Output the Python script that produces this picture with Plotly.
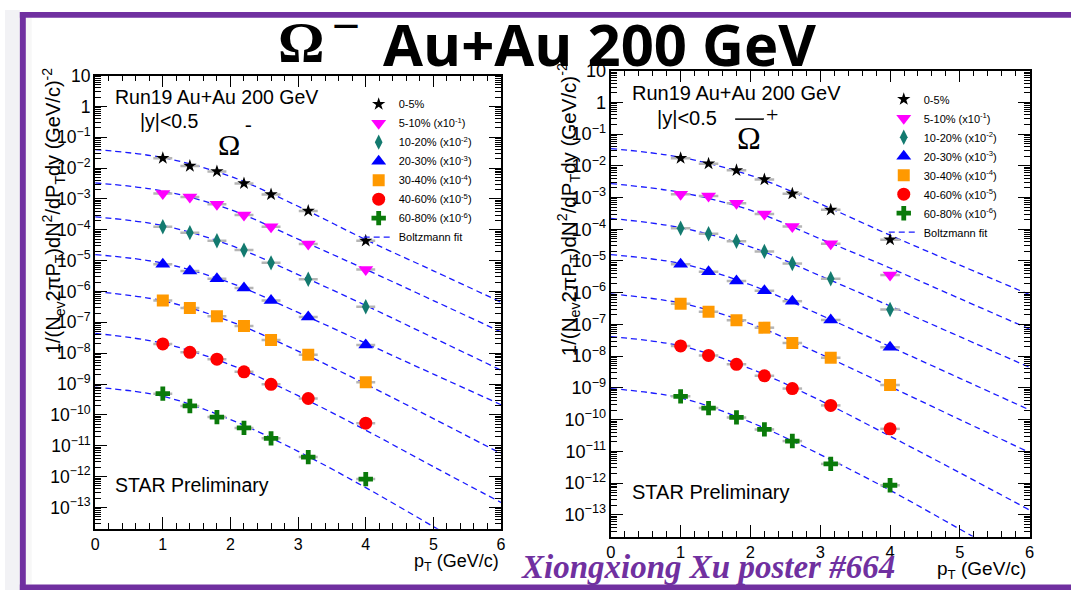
import plotly.graph_objects as go

W, H = 1076, 590

# ---------------- data ----------------
pt = [1.0, 1.4, 1.8, 2.2, 2.6, 3.15, 4.0]
pt_err = [0.14, 0.14, 0.14, 0.14, 0.14, 0.14, 0.14]
fit_pt = [0, 1, 2, 3, 4, 5, 6]

cent_labels = [
    "0-5%",
    "5-10% (x10<sup>-1</sup>)",
    "10-20% (x10<sup>-2</sup>)",
    "20-30% (x10<sup>-3</sup>)",
    "30-40% (x10<sup>-4</sup>)",
    "40-60% (x10<sup>-5</sup>)",
    "60-80% (x10<sup>-6</sup>)",
]
fit_label = "Boltzmann fit"

# Omega^- spectra (scaled)
om_0_5 = [2.1e-2, 1.17e-2, 7.8e-3, 3.2e-3, 1.4e-3, 4.1e-4, 4.4e-5]
om_5_10 = [1.5e-3, 1.15e-3, 6.8e-4, 3.0e-4, 1.26e-4, 3.5e-5, 5.2e-6]
om_10_20 = [1.26e-4, 8.1e-5, 4.4e-5, 2.2e-5, 8.5e-6, 2.5e-6, 3.2e-7]
om_20_30 = [7.6e-6, 4.6e-6, 2.6e-6, 1.3e-6, 5.1e-7, 1.5e-7, 1.85e-8]
om_30_40 = [5.1e-7, 2.9e-7, 1.58e-7, 7.6e-8, 2.7e-8, 8.9e-9, 1.15e-9]
om_40_60 = [2.0e-8, 1.07e-8, 6.4e-9, 2.5e-9, 9.8e-10, 3.4e-10, 5.4e-11]
om_60_80 = [4.9e-10, 1.95e-10, 8.5e-11, 3.8e-11, 1.74e-11, 4.3e-12, 8.3e-13]

# Omega^- Boltzmann fit curves, read at fit_pt
om_fit_0_5 = [4.0e-2, 2.19e-2, 5.4e-3, 5.8e-4, 4.8e-5, 4.7e-6, 4.5e-7]
om_fit_5_10 = [3.3e-3, 1.82e-3, 4.5e-4, 5.0e-5, 5.2e-6, 5.1e-7, 4.9e-8]
om_fit_10_20 = [2.63e-4, 1.38e-4, 3.16e-5, 3.55e-6, 3.55e-7, 3.16e-8, 2.82e-9]
om_fit_20_30 = [1.58e-5, 8.3e-6, 1.9e-6, 2.1e-7, 2.1e-8, 2.1e-9, 2.14e-10]
om_fit_30_40 = [1.0e-6, 5.0e-7, 1.07e-7, 1.17e-8, 1.0e-9, 7.6e-11, 5.6e-12]
om_fit_40_60 = [4.4e-8, 2.1e-8, 4.2e-9, 4.2e-10, 3.2e-11, 2.1e-12, 1.45e-13]
om_fit_60_80 = [7.9e-10, 4.0e-10, 7.1e-11, 6.6e-12, 4.4e-13, 2.4e-14, 1.26e-15]

# anti-Omega^+ spectra (scaled)
ab_0_5 = [1.74e-2, 1.17e-2, 7.2e-3, 3.7e-3, 1.32e-3, 4.1e-4, 4.7e-5]
ab_5_10 = [1.26e-3, 1.12e-3, 6.6e-4, 3.0e-4, 1.23e-4, 3.5e-5, 3.6e-6]
ab_10_20 = [1.07e-4, 7.2e-5, 4.2e-5, 2.0e-5, 8.3e-6, 2.75e-6, 2.95e-7]
ab_20_30 = [7.9e-6, 4.6e-6, 2.35e-6, 1.15e-6, 5.4e-7, 1.38e-7, 1.9e-8]
ab_30_40 = [4.5e-7, 2.5e-7, 1.35e-7, 7.9e-8, 2.6e-8, 8.9e-9, 1.23e-9]
ab_40_60 = [2.1e-8, 1.05e-8, 5.5e-9, 2.4e-9, 9.5e-10, 2.8e-10, 5.1e-11]
ab_60_80 = [5.4e-10, 2.3e-10, 1.17e-10, 4.9e-11, 2.1e-11, 4.0e-12, 8.5e-13]

# anti-Omega^+ Boltzmann fit curves, read at fit_pt
ab_fit_0_5 = [3.5e-2, 1.86e-2, 5.0e-3, 6.3e-4, 6.5e-5, 7.4e-6, 8.7e-7]
ab_fit_5_10 = [2.75e-3, 1.45e-3, 4.0e-4, 5.0e-5, 6.0e-6, 6.5e-7, 7.1e-8]
ab_fit_10_20 = [2.2e-4, 1.12e-4, 2.8e-5, 3.4e-6, 3.8e-7, 4.1e-8, 4.4e-9]
ab_fit_20_30 = [1.58e-5, 8.3e-6, 1.78e-6, 2.0e-7, 2.0e-8, 2.0e-9, 2.0e-10]
ab_fit_30_40 = [9.1e-7, 4.7e-7, 1.05e-7, 1.17e-8, 1.1e-9, 1.0e-10, 9.1e-12]
ab_fit_40_60 = [4.1e-8, 2.1e-8, 4.0e-9, 4.0e-10, 3.0e-11, 2.1e-12, 1.4e-13]
ab_fit_60_80 = [9.5e-10, 4.8e-10, 8.3e-11, 7.9e-12, 5.9e-13, 3.5e-14, 2.0e-15]

om_series = [om_0_5, om_5_10, om_10_20, om_20_30, om_30_40, om_40_60, om_60_80]
om_fits = [om_fit_0_5, om_fit_5_10, om_fit_10_20, om_fit_20_30, om_fit_30_40, om_fit_40_60, om_fit_60_80]
ab_series = [ab_0_5, ab_5_10, ab_10_20, ab_20_30, ab_30_40, ab_40_60, ab_60_80]
ab_fits = [ab_fit_0_5, ab_fit_5_10, ab_fit_10_20, ab_fit_20_30, ab_fit_30_40, ab_fit_40_60, ab_fit_60_80]

# ---------------- styles ----------------
SANS = "Liberation Sans, Arial, Helvetica, sans-serif"
SERIF = "Liberation Serif, Times New Roman, serif"
PURPLE = "#7030a0"
marker_styles = [
    dict(symbol="star", size=10, color="black"),
    dict(symbol="triangle-down", size=13, color="#ff00ff"),
    dict(symbol="diamond-tall", size=11, color="#137a6f"),
    dict(symbol="triangle-up", size=13, color="#0000ff"),
    dict(symbol="square", size=12, color="#ff9900"),
    dict(symbol="circle", size=13, color="#ff0000"),
    dict(symbol="cross", size=12, color="#0a7a0a"),
]
FIT_COLOR = "#1a1aff"


def px(x):
    return x / W


def py(y):
    return 1 - y / H


fig = go.Figure()

panels = [
    dict(series=om_series, fits=om_fits, xa="x", ya="y", legend="legend"),
    dict(series=ab_series, fits=ab_fits, xa="x2", ya="y2", legend="legend2"),
]

for p in panels:
    for i, fit in enumerate(p["fits"]):
        fig.add_trace(go.Scatter(
            x=fit_pt, y=fit, mode="lines", xaxis=p["xa"], yaxis=p["ya"],
            line=dict(color=FIT_COLOR, width=1.3, dash="6px,4px", shape="spline"),
            name=fit_label, legend=p["legend"], legendrank=100,
            showlegend=(i == 0), hoverinfo="skip",
        ))
    for i, ys in enumerate(p["series"]):
        ms = marker_styles[i]
        fig.add_trace(go.Scatter(
            x=pt, y=ys, mode="markers", xaxis=p["xa"], yaxis=p["ya"],
            marker=dict(symbol=ms["symbol"], size=ms["size"], color=ms["color"],
                        line=dict(width=0)),
            error_x=dict(type="data", array=pt_err, color="#b5b5b5", thickness=2.5, width=0),
            name=cent_labels[i], legend=p["legend"], legendrank=i + 1,
        ))


def xaxis_cfg(x0, x1, anchor, fsize):
    return dict(
        domain=[px(x0), px(x1)], range=[0, 6], anchor=anchor,
        tick0=0, dtick=1, ticks="inside", ticklen=12, tickwidth=1, tickcolor="black",
        minor=dict(dtick=0.2, ticks="inside", ticklen=6, tickwidth=1, tickcolor="black"),
        showline=True, linecolor="black", linewidth=1.6, mirror="ticks",
        showgrid=False, zeroline=False,
        tickfont=dict(family=SANS, size=fsize, color="black"),
    )


def yaxis_cfg(y0, y1, anchor, fsize):
    return dict(
        domain=[py(y1), py(y0)], type="log", range=[-13.69, 1], anchor=anchor,
        dtick=1, exponentformat="power",
        ticks="inside", ticklen=12, tickwidth=1, tickcolor="black",
        minor=dict(dtick="D1", ticks="inside", ticklen=6, tickwidth=1, tickcolor="black"),
        showline=True, linecolor="black", linewidth=1.6, mirror="ticks",
        showgrid=False, zeroline=False,
        tickfont=dict(family=SANS, size=fsize, color="black"),
    )


def legend_cfg(x, y, fsize):
    return dict(
        x=px(x), y=py(y), xanchor="left", yanchor="top",
        bgcolor="rgba(0,0,0,0)", borderwidth=0,
        font=dict(family=SANS, size=fsize, color="black"),
        itemwidth=30, traceorder="normal",
    )


annotations = []


def ann(text, x, y, size, family=SANS, xanchor="center", yanchor="middle", color="black",
        angle=0, weight="normal", style="normal"):
    annotations.append(dict(
        text=text, x=px(x), y=py(y), xref="paper", yref="paper",
        xanchor=xanchor, yanchor=yanchor, showarrow=False, textangle=angle,
        font=dict(family=family, size=size, color=color, weight=weight, style=style),
    ))


ytitle = "1/(N<sub>ev</sub>2πP<sub>T</sub>)dN<sup>2</sup>/dP<sub>T</sub>dy (GeV/c)<sup>-2</sup>"
xtitle = "p<sub>T</sub> (GeV/c)"

# left panel texts
ann("Run19 Au+Au 200 GeV", 109.5, 89, 19.5, xanchor="left")
ann("|y|<0.5", 134, 113, 19.5, xanchor="left")
ann("Ω", 226.5, 137, 30, family=SERIF)
ann("-", 246, 116, 20, family=SERIF)
ann("STAR Preliminary", 109.5, 483.5, 19.5, xanchor="left")
ann(ytitle, 49, 205, 20, angle=-90)
ann(xtitle, 501, 562, 18, xanchor="right")

# right panel texts
ann("Run19 Au+Au 200 GeV", 630.5, 84, 20, xanchor="left")
ann("|y|<0.5", 656, 110, 20, xanchor="left")
ann("Ω", 751, 130, 32, family=SERIF)
ann("+", 774, 106, 22, family=SERIF)
ann("STAR Preliminary", 630.5, 490, 20, xanchor="left")
ann(ytitle, 569, 203, 20.5, angle=-90)
ann(xtitle, 1033, 570, 19, xanchor="right")

# poster title & credit
ann("Ω", 299, 33, 58, family=SERIF, weight="bold")
ann("—", 344, 15, 26, family="DejaVu Sans", weight="bold")
ann("Au+Au 200 GeV", 600, 34, 58, family="Open Sans", weight="bold")
ann("Xiongxiong Xu poster #664", 709.5, 567, 33, family=SERIF, color=PURPLE,
    weight="bold", style="italic")

shapes = [
    # grey strip outside the poster frame
    dict(type="rect", xref="paper", yref="paper", x0=0, x1=px(15), y0=0, y1=1,
         fillcolor="#f2f2f5", line=dict(width=0), layer="below"),
    dict(type="rect", xref="paper", yref="paper", x0=px(21), x1=px(27), y0=py(584), y1=py(8),
         fillcolor="#f7f7f7", line=dict(width=0), layer="below"),
    # purple frame
    dict(type="rect", xref="paper", yref="paper", x0=px(15), x1=px(21), y0=0, y1=py(2),
         fillcolor=PURPLE, line=dict(width=0)),
    dict(type="rect", xref="paper", yref="paper", x0=px(15), x1=1, y0=py(8), y1=py(2),
         fillcolor=PURPLE, line=dict(width=0)),
    dict(type="rect", xref="paper", yref="paper", x0=px(15), x1=1, y0=0, y1=py(584.5),
         fillcolor=PURPLE, line=dict(width=0)),
    # overline of anti-Omega
    dict(type="line", xref="paper", yref="paper", x0=px(737), x1=px(766), y0=py(111), y1=py(111),
         line=dict(color="black", width=1.5)),
]

fig.update_layout(
    width=W, height=H,
    margin=dict(l=0, r=0, t=0, b=0),
    paper_bgcolor="white", plot_bgcolor="white",
    xaxis=xaxis_cfg(91, 500.7, "y", 16),
    yaxis=yaxis_cfg(66.7, 527.7, "x", 14),
    xaxis2=xaxis_cfg(611.5, 1034.3, "y2", 16.5),
    yaxis2=yaxis_cfg(61.7, 535.7, "x2", 14.5),
    legend=legend_cfg(357, 81, 11),
    legend2=legend_cfg(887, 76, 11),
    annotations=annotations,
    shapes=shapes,
    showlegend=True,
)

fig.write_html(
    "out.html",
    config={"displayModeBar": False},
    post_script=(
        "document.documentElement.style.margin='0';"
        "document.body.style.margin='0';"
        "document.body.style.overflow='hidden';"
        "var d=document.getElementById('{plot_id}');"
        "d.style.position='fixed';d.style.left='0px';d.style.top='0px';"
    ),
)
